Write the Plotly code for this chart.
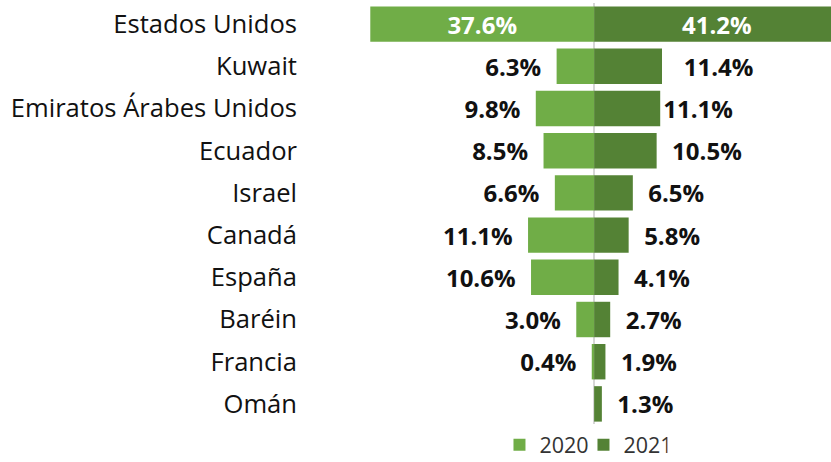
import plotly.graph_objects as go

countries = ["Estados Unidos", "Kuwait", "Emiratos Árabes Unidos", "Ecuador", "Israel",
             "Canadá", "España", "Baréin", "Francia", "Omán"]
v2020 = [37.6, 6.3, 9.8, 8.5, 6.6, 11.1, 10.6, 3.0, 0.4, None]
v2021 = [41.2, 11.4, 11.1, 10.5, 6.5, 5.8, 4.1, 2.7, 1.9, 1.3]

c2020 = "#70AD47"
c2021 = "#548235"
FONT = "Open Sans"
NB = "\u00a0"

# label gap (number of non-breaking spaces) between bar end and its label
gap2020 = [0, 2, 2, 2, 2, 2, 2, 2, 2, 2]
gap2021 = [0, 3, 0, 2, 2, 2, 2, 2, 2, 2]

neg2020 = [-v if v is not None else None for v in v2020]
txt2020 = [(f"{v:.1f}%" + NB * g) if v is not None else "" for v, g in zip(v2020, gap2020)]
txt2021 = [NB * g + f"{v:.1f}%" for v, g in zip(v2021, gap2021)]
pos = ["inside" if i == 0 else "outside" for i in range(len(countries))]
col = ["white" if i == 0 else "#111111" for i in range(len(countries))]

fig = go.Figure()
fig.add_trace(go.Bar(
    y=countries, x=neg2020, orientation="h", name="2020",
    marker=dict(color=c2020, line=dict(width=0)),
    text=txt2020, textposition=pos, insidetextanchor="middle",
    textfont=dict(family=FONT, size=24, color=col, weight="bold"),
    constraintext="none", cliponaxis=False,
))
fig.add_trace(go.Bar(
    y=countries, x=v2021, orientation="h", name="2021",
    marker=dict(color=c2021, line=dict(width=0)),
    text=txt2021, textposition=pos, insidetextanchor="middle",
    textfont=dict(family=FONT, size=24, color=col, weight="bold"),
    constraintext="none", cliponaxis=False,
))

fig.update_layout(
    width=840, height=462,
    margin=dict(l=356, r=0, t=3, b=37, autoexpand=False),
    barmode="relative", bargap=0.16,
    plot_bgcolor="white", paper_bgcolor="white",
    font=dict(family=FONT, size=22, color="#111111"),
    showlegend=True,
    legend=dict(orientation="h", x=0.47, xanchor="center", y=-0.047, yanchor="middle",
                font=dict(family=FONT, size=21.5, color="#333333"),
                itemwidth=30, entrywidth=39, traceorder="normal"),
    xaxis=dict(range=[-40, 41.3], showticklabels=False, showgrid=False,
               zeroline=True, zerolinecolor="#D6D6D6", zerolinewidth=2,
               fixedrange=True, automargin=False),
    yaxis=dict(autorange="reversed", showgrid=False, showline=False,
               ticks="", ticklabelstandoff=58, automargin=False,
               tickfont=dict(family=FONT, size=25.6, color="#111111")),
)

fig.write_html("out.html", config={"displayModeBar": False},
               post_script="document.body.style.margin='0';document.body.style.overflow='hidden';")
